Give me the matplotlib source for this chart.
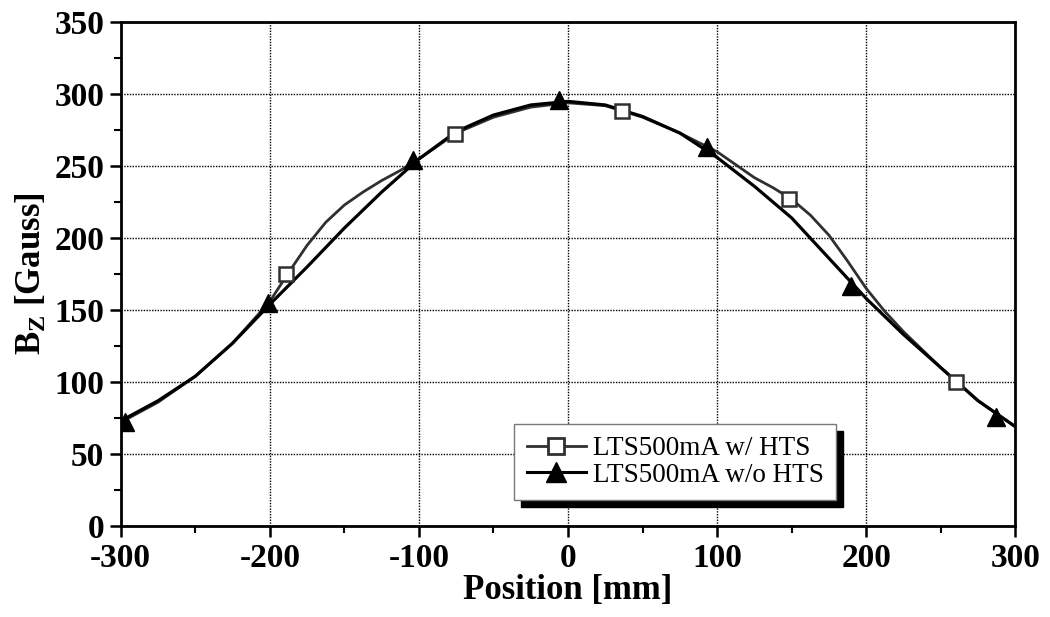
import matplotlib
matplotlib.use("Agg")
import matplotlib.pyplot as plt
from matplotlib.lines import Line2D

# Curve read-outs (position in mm, Bz in Gauss)
pos_with = [-300, -275, -250, -225, -200, -187.5, -175, -162.5, -150, -137.5,
            -125, -112.5, -100, -75, -50, -25, 0, 25, 50, 75, 100, 112.5, 125,
            137.5, 150, 162.5, 175, 187.5, 200, 212.5, 225, 250, 275, 300]
bz_with = [72, 86, 104, 127, 156, 176, 195, 211, 223, 232,
           240, 247, 255, 273, 284, 291, 294, 292, 284, 273, 260, 251, 242,
           235, 227, 216, 202, 184, 165, 149, 135, 110, 87, 69]
pos_without = [-300, -275, -250, -225, -200, -175, -150, -125, -100, -75, -50,
               -25, 0, 25, 50, 75, 100, 125, 150, 175, 200, 225, 250, 275, 300]
bz_without = [73, 87, 104, 127, 154, 180, 207, 232, 255, 274, 285.5,
              292.5, 295, 292.5, 284.5, 273, 256, 236, 214, 186, 158, 133, 110, 87, 69]

# Marker positions
mk_with_x = [-189, -76, 36, 148, 260]
mk_with_y = [175, 272, 288, 227, 100]
mk_without_x = [-297, -201, -104, -6, 93, 190, 287]
mk_without_y = [72, 155, 254, 296, 263, 167, 76]

label_with = "LTS500mA w/ HTS"
label_without = "LTS500mA w/o HTS"

serif = ["Liberation Serif", "DejaVu Serif"]
plt.rcParams['font.family'] = serif
plt.rcParams['axes.unicode_minus'] = False
plt.rcParams['mathtext.fontset'] = 'custom'
plt.rcParams['mathtext.rm'] = 'Liberation Serif:bold'
plt.rcParams['mathtext.bf'] = 'Liberation Serif:bold'
plt.rcParams['mathtext.it'] = 'Liberation Serif:bold'

fig = plt.figure(figsize=(10.5, 6.17), dpi=100)
ax = fig.add_axes([0.115, 0.1475, 0.852, 0.8165])

c_with = '#303030'
ax.plot(pos_with, bz_with, color=c_with, lw=2.0, zorder=3)
ax.plot(pos_without, bz_without, color='black', lw=2.3, zorder=3)
ax.plot(mk_with_x, mk_with_y, ls='none', marker='s', ms=10, mfc='white',
        mec=c_with, mew=1.8, zorder=4)
ax.plot(mk_without_x, mk_without_y, ls='none', marker='^', ms=13, mfc='black',
        mec='black', zorder=4)

ax.set_xlim(-300, 300)
ax.set_ylim(0, 350)
ax.set_xticks(range(-300, 301, 100))
ax.set_xticks(range(-250, 300, 100), minor=True)
ax.set_yticks(range(0, 351, 50))
ax.set_yticks(range(25, 350, 50), minor=True)
ax.grid(True, which='major', ls=(0, (1, 1)), color='black', lw=1.0)
ax.tick_params(which='major', direction='out', length=8, width=1.8,
               labelsize=24, pad=4)
ax.tick_params(which='minor', direction='out', length=5, width=1.5)
ax.tick_params(top=False, right=False)
for lab in ax.get_xticklabels() + ax.get_yticklabels():
    lab.set_fontweight('bold')
for sp in ax.spines.values():
    sp.set_linewidth(2.0)

ax.set_xlabel("Position [mm]", fontsize=25, fontweight='bold', labelpad=0)
ax.set_ylabel(r"B$_\mathrm{Z}$ [Gauss]", fontsize=25, fontweight='bold', labelpad=4)

handles = [
    Line2D([], [], color=c_with, lw=2.0, marker='s', ms=11, mfc='white', mec=c_with, mew=2.0),
    Line2D([], [], color='black', lw=2.2, marker='^', ms=15, mfc='black', mec='black'),
]
leg = ax.legend(handles, [label_with, label_without], loc='lower left',
                bbox_to_anchor=(0.44, 0.052), fontsize=19.5, frameon=True,
                fancybox=False, framealpha=1, edgecolor='#777777',
                handlelength=2.2, handletextpad=0.25, borderpad=0.45,
                labelspacing=0.05, borderaxespad=0,
                shadow={'ox': 5, 'oy': -5, 'color': 'black', 'alpha': 1})
leg.get_frame().set_linewidth(1.0)
leg.set_zorder(10)

fig.savefig("out.png", dpi=100)
